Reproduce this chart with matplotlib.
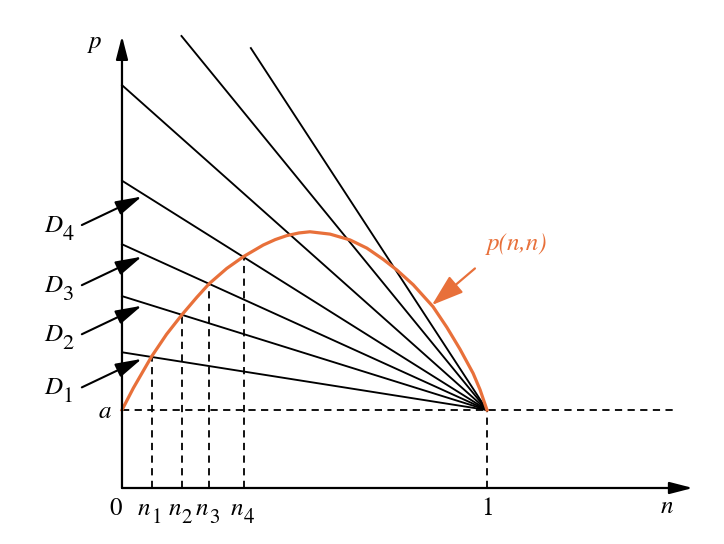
import matplotlib
matplotlib.use("Agg")
import matplotlib.pyplot as plt

plt.rcParams['mathtext.fontset'] = 'stix'
plt.rcParams['font.family'] = ['STIXGeneral', 'DejaVu Serif']

# values (n from 0 to 1, p in the same units as a)
a = 0.2
d_names = ['1', '2', '3', '4']
d_intercepts = [0.348, 0.492, 0.625, 0.788]
n_marks = [0.081, 0.164, 0.239, 0.334]
n_names = ['1', '2', '3', '4']
# further lines through (1, a): start points
extra_start_n = [0.0, 0.163, 0.353]
extra_start_p = [1.033, 1.159, 1.128]

curve_n = [0.0, 0.031, 0.081, 0.122, 0.164, 0.205, 0.239, 0.287, 0.334, 0.387,
           0.420, 0.451, 0.485, 0.515, 0.570, 0.625, 0.671, 0.716, 0.753,
           0.798, 0.852, 0.890, 0.926, 0.962, 0.981, 1.0]
curve_p = [0.200, 0.256, 0.337, 0.394, 0.444, 0.489, 0.524, 0.563, 0.594, 0.623,
           0.637, 0.647, 0.654, 0.657, 0.651, 0.636, 0.615, 0.586, 0.559,
           0.521, 0.465, 0.412, 0.356, 0.294, 0.252, 0.200]

orange = '#E8703A'
sub_drop = 0.021  # subscripts sit a little lower

fig = plt.figure(figsize=(7.24, 5.44), dpi=100)
ax = fig.add_axes([0, 0, 1, 1])
ax.set_xlim(-0.3342, 1.6493)
ax.set_ylim(-0.1436, 1.2513)
ax.axis('off')

# axes with arrow heads
arr = dict(arrowstyle='-|>,head_length=0.7,head_width=0.18', mutation_scale=20,
           lw=1.6, color='black', shrinkA=0, shrinkB=0)
ax.annotate('', xy=(0, 1.159), xytext=(0, 0), arrowprops=arr)
ax.annotate('', xy=(1.564, 0), xytext=(0, 0), arrowprops=arr)

# dashed guides
dash = dict(color='black', lw=1.3, linestyle=(0, (4, 3)))
ax.plot([0, 1.521], [a, a], **dash)
ax.plot([1, 1], [0, a], **dash)
for nm, p0 in zip(n_marks, d_intercepts):
    ax.plot([nm, nm], [0, p0 + (a - p0) * nm], **dash)

# straight lines through (1, a)
for p0 in d_intercepts:
    ax.plot([0, 1], [p0, a], color='black', lw=1.35)
for n0, p0 in zip(extra_start_n, extra_start_p):
    ax.plot([n0, 1], [p0, a], color='black', lw=1.35)

# p(n,n) curve
ax.plot(curve_n, curve_p, color=orange, lw=2.3, solid_joinstyle='round')

# D arrows and labels
d_arr = dict(arrowstyle='-|>,head_length=0.8,head_width=0.22', mutation_scale=20,
             lw=1.5, color='black', shrinkA=0, shrinkB=0)
for sub, p0 in zip(d_names, d_intercepts):
    tip_p = p0 + (a - p0) * 0.054 - 0.009
    tail_p = tip_p - 0.073
    ax.annotate('', xy=(0.054, tip_p), xytext=(-0.110, tail_p), arrowprops=d_arr)
    ax.text(-0.163, tail_p - 0.017, 'D', fontsize=18, style='italic',
            ha='right', va='baseline')
    ax.text(-0.163, tail_p - 0.017 - sub_drop, sub, fontsize=16,
            ha='left', va='baseline')

# orange pointer
ax.annotate('', xy=(0.849, 0.469), xytext=(0.967, 0.563),
            arrowprops=dict(arrowstyle='-|>,head_length=0.9,head_width=0.3',
                            mutation_scale=22, lw=1.6, color=orange,
                            shrinkA=0, shrinkB=0))
ax.text(1.0, 0.61, 'p(n,n)', fontsize=18, style='italic', color=orange,
        ha='left', va='baseline')

# axis texts
ax.text(-0.074, 1.128, 'p', fontsize=18, style='italic', ha='center', va='baseline')
ax.text(-0.047, a - 0.02, 'a', fontsize=18, style='italic', ha='center', va='baseline')
ax.text(1.493, -0.065, 'n', fontsize=18, style='italic', ha='center', va='baseline')
ax.text(-0.018, -0.069, '0', fontsize=18, ha='center', va='baseline')
ax.text(1.0, -0.069, '1', fontsize=18, ha='center', va='baseline')
for nm, sub in zip(n_marks, n_names):
    ax.text(nm - 0.003, -0.069, 'n', fontsize=18, style='italic',
            ha='right', va='baseline')
    ax.text(nm - 0.001, -0.069 - sub_drop, sub, fontsize=15,
            ha='left', va='baseline')

fig.savefig('out.png', dpi=100)
